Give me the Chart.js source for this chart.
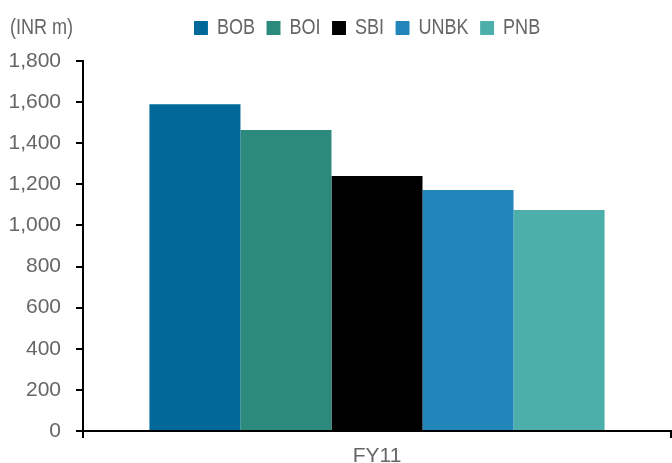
<!DOCTYPE html>
<html><head><meta charset="utf-8">
<script src="https://cdn.jsdelivr.net/npm/chart.js@4/dist/chart.umd.min.js"></script>
<style>html,body{margin:0;padding:0;background:#fff;}canvas{display:block;}</style>
</head><body>
<canvas id="c" width="672" height="463"></canvas>
<script>
const categories = ['FY11'];
const seriesNames = ['BOB', 'BOI', 'SBI', 'UNBK', 'PNB'];
const seriesValues = [[1590], [1464], [1240], [1172], [1075]];
const seriesColors = ['#00699A', '#2B8A7C', '#000000', '#2386BB', '#4CAFA9'];
const yTickValues = [0, 200, 400, 600, 800, 1000, 1200, 1400, 1600, 1800];
const unitLabel = '(INR m)';

const REG = "'Liberation Sans', Arial, sans-serif";
const GRAY = '#666666';
const LEG_SIZE = 22;   // legend / unit text size
const SX = 0.82;       // horizontal squeeze -> narrow face
const LEG_PAD = 14;

const legendTweak = {
  id: 'legendTweak',
  beforeInit(chart) {
    const lg = chart.legend;
    if (lg) {
      const f = lg.fit.bind(lg);
      lg.fit = function () { f(); this.height = 61; };
      const d = lg.draw.bind(lg);
      lg.draw = function (area) {
        const ctx = this.ctx;
        ctx.save();
        ctx.scale(SX, 1);
        d(area);
        ctx.restore();
      };
    }
  },
  afterLayout(chart) {
    const lg = chart.legend;
    if (lg) {
      lg.left = 194 / SX - LEG_PAD;
      lg.right = 672 / SX;
      lg.top = 28 - LEG_PAD - LEG_SIZE / 2;
    }
  },
  afterDraw(chart) {
    const ctx = chart.ctx;
    ctx.save();
    ctx.scale(SX, 1);
    ctx.fillStyle = GRAY;
    ctx.font = LEG_SIZE + 'px ' + REG;
    ctx.textAlign = 'left';
    ctx.textBaseline = 'middle';
    ctx.fillText(unitLabel, 10 / SX, 28);
    ctx.restore();
  }
};

new Chart(document.getElementById('c'), {
  type: 'bar',
  data: {
    labels: categories,
    datasets: seriesNames.map((n, i) => ({
      label: n,
      data: seriesValues[i],
      backgroundColor: seriesColors[i],
      borderWidth: 0,
      categoryPercentage: 0.774,
      barPercentage: 1.0
    }))
  },
  options: {
    responsive: false,
    animation: false,
    layout: { padding: { left: 0, right: 1, top: 0, bottom: 0 } },
    plugins: {
      tooltip: { enabled: false },
      title: { display: false },
      legend: {
        display: true,
        position: 'top',
        align: 'start',
        labels: {
          boxWidth: Math.round(14 / SX),
          boxHeight: 14,
          padding: LEG_PAD,
          color: GRAY,
          font: { family: REG, size: LEG_SIZE }
        }
      }
    },
    scales: {
      x: {
        grid: { display: true, drawOnChartArea: false, offset: true, color: '#000', lineWidth: 2, tickLength: 7 },
        border: { display: true, color: '#000', width: 2 },
        ticks: { color: GRAY, font: { family: REG, size: 21 }, padding: 6 },
        afterFit(s) { s.height = 32; }
      },
      y: {
        min: 0,
        max: 1800,
        afterBuildTicks(s) { s.ticks = yTickValues.map(v => ({ value: v })); },
        grid: { display: true, drawOnChartArea: false, color: '#000', lineWidth: 2, tickLength: 7 },
        border: { display: true, color: '#000', width: 2 },
        ticks: {
          color: GRAY,
          font: { family: REG, size: 21 },
          padding: 15,
          callback: v => Number(v).toLocaleString('en-US')
        },
        afterFit(s) { s.width = 83; }
      }
    }
  },
  plugins: [legendTweak]
});
</script>
</body></html>
